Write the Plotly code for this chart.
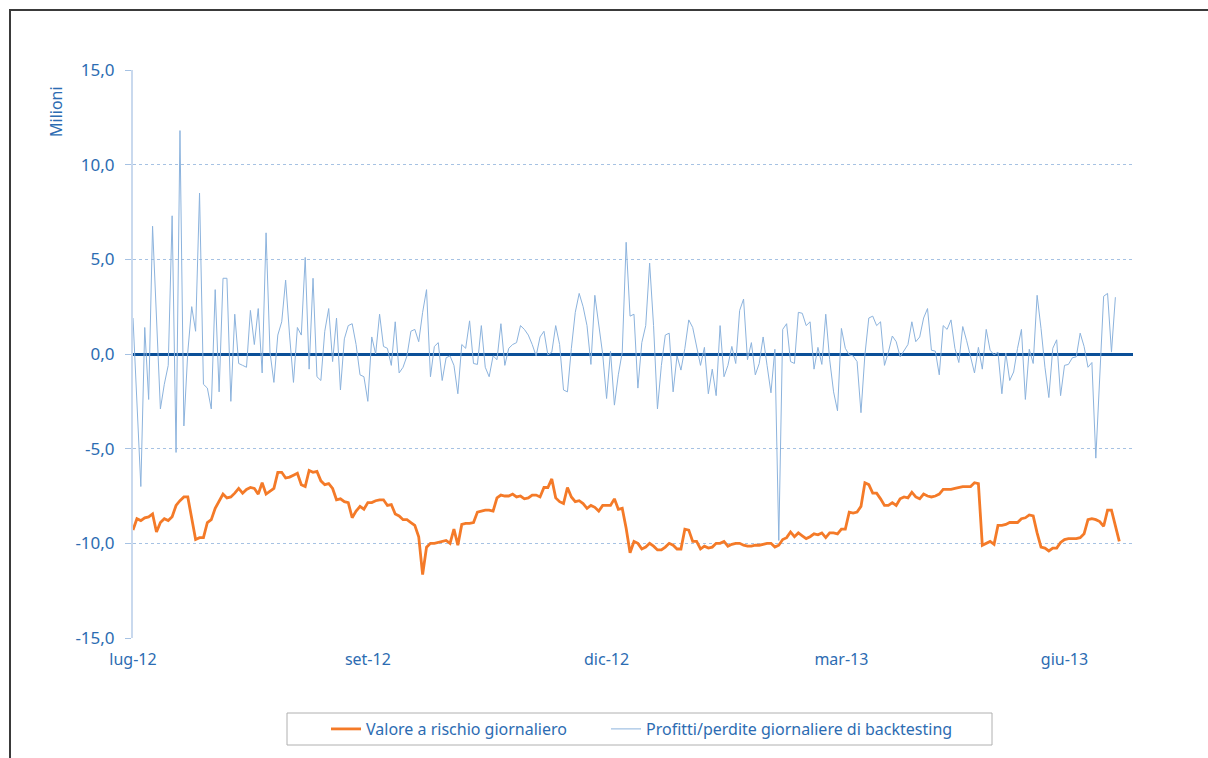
import plotly.graph_objects as go

# Daily VaR (orange), in millions
var_daily = [
    -9.3, -8.7, -8.8, -8.65, -8.6, -8.45, -9.4, -8.9, -8.7, -8.8,
    -8.6, -8.0, -7.75, -7.55, -7.55, -8.7, -9.8, -9.7, -9.7, -8.9,
    -8.75, -8.15, -7.75, -7.4, -7.6, -7.55, -7.35, -7.1, -7.35, -7.15,
    -7.05, -7.1, -7.4, -6.8, -7.4, -7.25, -7.1, -6.25, -6.25, -6.55,
    -6.5, -6.4, -6.3, -6.9, -7.0, -6.15, -6.25, -6.2, -6.7, -6.9,
    -6.85, -7.1, -7.7, -7.65, -7.8, -7.85, -8.65, -8.3, -8.05, -8.2,
    -7.85, -7.85, -7.75, -7.7, -7.7, -8.0, -7.95, -8.45, -8.55, -8.75,
    -8.75, -8.9, -9.05, -9.65, -11.65, -10.2, -10.0, -10.0, -9.95, -9.9,
    -9.85, -10.0, -9.25, -10.1, -9.0, -8.95, -8.95, -8.9, -8.35, -8.3,
    -8.25, -8.25, -8.3, -7.6, -7.45, -7.5, -7.5, -7.4, -7.55, -7.5,
    -7.65, -7.6, -7.45, -7.45, -7.55, -7.05, -7.05, -6.6, -7.6, -7.8,
    -7.9, -7.05, -7.55, -7.8, -7.75, -7.9, -8.15, -8.0, -8.1, -8.3,
    -8.0, -8.0, -8.0, -7.65, -8.2, -8.15, -9.2, -10.5, -9.9, -10.0,
    -10.3, -10.2, -10.0, -10.15, -10.35, -10.35, -10.2, -10.0, -10.1, -10.3,
    -10.3, -9.25, -9.3, -9.9, -9.9, -10.3, -10.15, -10.25, -10.2, -10.0,
    -10.0, -9.9, -10.15, -10.05, -10.0, -10.0, -10.1, -10.15, -10.15, -10.1,
    -10.1, -10.05, -10.0, -10.0, -10.2, -10.1, -9.8, -9.7, -9.4, -9.65,
    -9.45, -9.6, -9.75, -9.65, -9.5, -9.55, -9.45, -9.7, -9.45, -9.45,
    -9.5, -9.25, -9.25, -8.35, -8.4, -8.35, -8.05, -6.8, -6.9, -7.35,
    -7.35, -7.65, -8.0, -8.0, -7.85, -8.0, -7.65, -7.55, -7.6, -7.3,
    -7.55, -7.65, -7.4, -7.5, -7.55, -7.5, -7.4, -7.15, -7.15, -7.15,
    -7.1, -7.05, -7.0, -7.0, -7.0, -6.8, -6.85, -10.1, -10.0, -9.9,
    -10.05, -9.05, -9.05, -9.0, -8.9, -8.9, -8.9, -8.7, -8.65, -8.5,
    -8.55, -9.45, -10.2, -10.25, -10.4, -10.25, -10.25, -9.95, -9.8, -9.75,
    -9.75, -9.75, -9.7, -9.5, -8.75, -8.7, -8.75, -8.85, -9.1, -8.25,
    -8.25, -9.05, -9.9,
]

# Daily backtesting P&L (blue), in millions
pnl_daily = [
    1.9, -2.5, -7.0, 1.4, -2.4, 6.75, 2.0, -2.9, -1.6, -0.6,
    7.3, -5.2, 11.8, -3.8, 0.1, 2.5, 1.2, 8.5, -1.6, -1.8,
    -2.9, 3.4, -2.0, 4.0, 4.0, -2.5, 2.1, -0.5, -0.6, -0.7,
    2.3, 0.5, 2.4, -1.0, 6.4, 0.1, -1.5, 1.0, 1.7, 3.9,
    1.0, -1.5, 1.4, 1.0, 5.1, -0.8, 4.0, -1.2, -1.4, 1.2,
    2.4, -0.4, 1.9, -1.9, 0.8, 1.5, 1.6, 0.5, -1.1, -1.2,
    -2.5, 0.9, 0.0, 2.1, 0.4, 0.3, -0.6, 1.7, -1.0, -0.7,
    -0.1, 1.2, 1.3, 0.65, 2.2, 3.4, -1.2, 0.4, 0.6, -1.4,
    -0.2, -0.1, -0.6, -2.1, 0.5, 0.3, 1.75, -0.5, -0.55, 1.5,
    -0.7, -1.2, -0.1, -0.3, 1.6, -0.6, 0.3, 0.5, 0.6, 1.5,
    1.3, 1.0, 0.5, -0.1, 0.9, 1.2, -0.05, 0.1, 1.5, 0.5,
    -1.9, -2.0, 0.3, 2.2, 3.2, 2.5, 1.5, -0.55, 3.1, 1.6,
    0.0, -2.35, 0.15, -2.7, -1.1, 0.1, 5.9, 2.0, 2.1, -1.8,
    0.6, 1.5, 4.8, 1.5, -2.9, -0.6, 1.0, 1.1, -2.0, -0.1,
    -0.85, 0.3, 1.8, 1.4, 0.4, -0.6, 0.35, -2.1, -0.8, -2.2,
    1.5, -1.2, -0.6, 0.4, -0.5, 2.3, 2.9, -0.3, 0.6, -1.1,
    -0.5, 0.9, -0.6, -2.05, 0.25, -9.85, 1.3, 1.6, -0.4, -0.5,
    2.2, 2.15, 1.5, 1.7, -0.8, 0.35, -0.55, 2.1, -0.3, -2.0,
    -3.0, 1.35, 0.3, -0.05, -0.1, -0.4, -3.1, -0.05, 1.9, 2.0,
    1.5, 1.7, -0.6, 0.1, 0.95, 0.65, -0.15, 0.15, 0.5, 1.7,
    0.65, 0.9, 1.9, 2.4, 0.2, 0.15, -1.1, 1.5, 1.3, 1.8,
    0.3, -0.45, 1.45, 0.7, -0.1, -1.0, 0.35, -0.8, 1.3, 0.2,
    -0.05, 0.1, -2.1, 0.05, -1.4, -0.95, 0.3, 1.3, -2.4, 0.25,
    -0.5, 3.1, 1.35, -0.7, -2.3, 0.3, 0.75, -2.2, -0.6, -0.55,
    -0.2, -0.15, 1.1, 0.4, -0.7, -0.45, -5.5, -1.6, 3.05, 3.2,
    0.1, 3.0,
]

tick_positions = [0, 60, 121, 181, 238]
tick_labels = ["lug-12", "set-12", "dic-12", "mar-13", "giu-13"]
y_ticks = [-15, -10, -5, 0, 5, 10, 15]
y_tick_labels = ["-15,0", "-10,0", "-5,0", "0,0", "5,0", "10,0", "15,0"]

x_var = list(range(len(var_daily)))
x_pnl = list(range(len(pnl_daily)))

BLUE_TXT = "#2c6cb2"
GRID = "#a6c2e3"
FONT = "Noto Sans"

fig = go.Figure()
fig.add_trace(go.Scatter(
    x=x_var, y=var_daily, mode="lines",
    name="Valore a rischio giornaliero",
    line=dict(color="#f47a28", width=2.8),
    legend="legend",
))
fig.add_trace(go.Scatter(
    x=x_pnl, y=pnl_daily, mode="lines",
    name="Profitti/perdite giornaliere di backtesting",
    line=dict(color="#8cb3dd", width=1),
    legend="legend2",
))

W, H = 1208, 758
L, R, T, B = 133, 75, 70, 120
pw, ph = W - L - R, H - T - B


def px_x(p):
    return (p - L) / pw


def px_y(p):
    return (H - B - p) / ph


legend_common = dict(
    orientation="h", xanchor="left",
    y=px_y(729), yanchor="middle",
    font=dict(family=FONT, size=16, color=BLUE_TXT),
    bgcolor="rgba(0,0,0,0)",
)

fig.update_layout(
    width=W, height=H,
    margin=dict(l=L, r=R, t=T, b=B),
    paper_bgcolor="white", plot_bgcolor="white",
    font=dict(family=FONT, size=16, color=BLUE_TXT),
    showlegend=True,
    legend=dict(x=px_x(326), **legend_common),
    legend2=dict(x=px_x(606), **legend_common),
    xaxis=dict(
        range=[0, 255.5],
        tickmode="array", tickvals=tick_positions, ticktext=tick_labels,
        showgrid=False, zeroline=False, showline=False,
        ticks="", ticklabelstandoff=10,
        tickfont=dict(size=16, color=BLUE_TXT),
    ),
    yaxis=dict(
        range=[-15, 15],
        tickmode="array", tickvals=y_ticks, ticktext=y_tick_labels,
        showgrid=True, gridcolor=GRID, griddash="dot", gridwidth=1,
        zeroline=True, zerolinecolor="#0a4f98", zerolinewidth=2.5,
        showline=True, linecolor="#c9d9ee", linewidth=2,
        ticks="outside", ticklen=6, tickcolor=GRID, tickwidth=1,
        ticklabelstandoff=7,
        tickfont=dict(size=17, color=BLUE_TXT),
    ),
    shapes=[
        # outer frame
        dict(type="rect", xref="paper", yref="paper",
             x0=px_x(10), x1=px_x(1400), y0=px_y(900), y1=px_y(10),
             line=dict(color="#3a3a3a", width=2), layer="below"),
        # legend box
        dict(type="rect", xref="paper", yref="paper",
             x0=px_x(287), x1=px_x(992), y0=px_y(745), y1=px_y(713),
             line=dict(color="#b0b0b0", width=1), layer="below"),
    ],
    annotations=[
        dict(text="Milioni", xref="paper", yref="paper",
             x=px_x(56), y=px_y(112), textangle=-90,
             showarrow=False, font=dict(family=FONT, size=16, color=BLUE_TXT),
             xanchor="center", yanchor="middle"),
    ],
)

fig.write_html(
    "out.html",
    config={"displayModeBar": False},
    post_script="document.body.style.margin='0px';document.body.style.overflow='hidden';",
)
